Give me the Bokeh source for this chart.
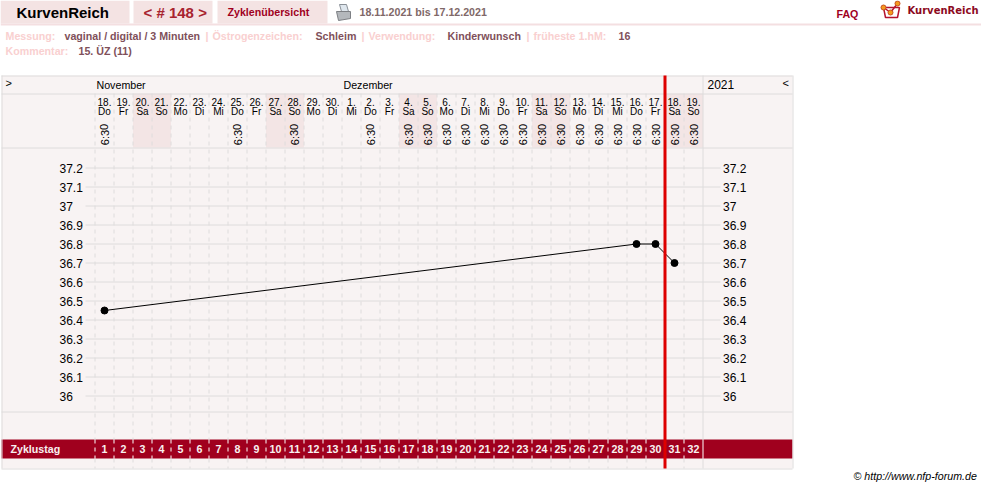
from bokeh.plotting import figure
from bokeh.models import Range1d, LinearAxis, FixedTicker, NumeralTickFormatter
from bokeh.core.properties import value
from bokeh.embed import file_html
from bokeh.resources import INLINE

# ---------- data ----------
day_numbers = [18,19,20,21,22,23,24,25,26,27,28,29,30,1,2,3,4,5,6,7,8,9,10,11,12,13,14,15,16,17,18,19]
weekdays = ["Do","Fr","Sa","So","Mo","Di","Mi","Do","Fr","Sa","So","Mo","Di","Mi","Do","Fr","Sa","So","Mo","Di","Mi","Do","Fr","Sa","So","Mo","Di","Mi","Do","Fr","Sa","So"]
cycle_days = list(range(1, 33))
measured_cycle_days = [1, 29, 30, 31]
temperatures = [36.45, 36.8, 36.8, 36.7]
time_cycle_days = [1, 8, 11, 15, 17, 18, 19, 20, 21, 22, 23, 24, 25, 26, 27, 28, 29, 30, 31, 32]
time_label = "6:30"
temp_ticks = [36, 36.1, 36.2, 36.3, 36.4, 36.5, 36.6, 36.7, 36.8, 36.9, 37, 37.1, 37.2]
current_boundary = 30.5
months = ["November", "Dezember"]
year = "2021"

# ---------- layout constants (pixels) ----------
W, H = 981, 488
DAY_PX, DEG_PX = 19, 190
DAY1_PX, T36_PX = 104, 395.5

BG, GRID, WKND, TAB = "#f8f3f3", "#dedcdc", "#f3e5e5", "#f4e3e3"
WINE, RED = "#a0001e", "#dd0000"
PALE, VAL, DATEC = "#f9d0d0", "#80505a", "#806868"
ARIAL = value("Liberation Sans")
PT8 = 10.67

p = figure(width=W, height=H, output_backend="svg", toolbar_location=None, min_border=0,
           x_range=Range1d(1 - DAY1_PX / DAY_PX, 1 + (W - DAY1_PX) / DAY_PX),
           y_range=Range1d(36 - (H - T36_PX) / DEG_PX, 36 + T36_PX / DEG_PX),
           x_axis_type=None, y_axis_type=None, outline_line_color=None,
           background_fill_color="white", border_fill_color="white")
p.styles = {"position": "absolute", "left": "0px", "top": "0px"}
p.grid.visible = False
p.extra_x_ranges["px"] = Range1d(0, W)
p.extra_y_ranges["px"] = Range1d(H, 0)
PX = dict(x_range_name="px", y_range_name="px")
PY = dict(y_range_name="px")

def box(x0, x1, y0, y1, color):
    p.quad(left=[x0], right=[x1], top=[y0], bottom=[y1], fill_color=color, line_color=None, **PX)

def hline(x0, x1, y, color=GRID, w=1):
    p.segment([x0], [y], [x1], [y], line_color=color, line_width=w, **PX)

def vline(x, y0, y1, color=GRID, w=1):
    p.segment([x], [y0], [x], [y1], line_color=color, line_width=w, **PX)

def txt(x, y, s, color, size, font=ARIAL, style="normal", align="left"):
    p.text([x], [y - 1], text=[s], text_color=color, text_font=font, text_font_size=f"{size}px",
           text_font_style=style, text_align=align, text_baseline="middle", **PX)

# ---------- top tabs ----------
box(0, 129, 0, 23, TAB); box(133, 212, 0, 23, TAB); box(217, 327, 0, 23, TAB)
box(0, W, 23, 25, "#f4dfe1")
txt(16, 13, "KurvenReich", "#000000", 15, style="bold")
txt(143, 13, "< # 148 >", "#a8232f", 15, style="bold")
txt(227, 12.5, "Zyklenübersicht", WINE, PT8, style="bold")
txt(359, 12.5, "18.11.2021 bis 17.12.2021", DATEC, PT8, style="bold")
txt(836, 14.5, "FAQ", WINE, PT8, style="bold")
txt(907, 10.5, "KurvenReich", "#8c0a1e", 10, font=value("DejaVu Sans"), style="bold")

# printer icon
p.patch([339, 346, 348, 341], [4, 4, 11, 11], fill_color="#dfe7ee", line_color="#8a9097", **PX)
p.patch([336, 350, 350, 338], [11, 11, 18, 20], fill_color="#b4b8bc", line_color="#7d8084", **PX)

# logo
p.patch([883, 899, 897, 885], [7, 7, 17, 17], fill_color="#ffffff", line_color="#b5122e", line_width=1.5, **PX)
p.line([883, 890, 897], [7, 12, 3], line_color="#b5122e", line_width=1.5, **PX)
p.scatter([883, 890, 897], [7, 12, 3], size=5, fill_color="#f39a1e", line_color="#c8501e", **PX)

# ---------- info lines ----------
for x, s, c in [(5, "Messung:", PALE), (64, "vaginal / digital / 3 Minuten", VAL), (205, "|", PALE),
                (212, "Östrogenzeichen:", PALE), (315, "Schleim", VAL), (361, "|", PALE),
                (368, "Verwendung:", PALE), (447, "Kinderwunsch", VAL), (526, "|", PALE),
                (533, "früheste 1.hM:", PALE), (618, "16", VAL)]:
    txt(x, 36, s, c, PT8, style="bold")
txt(5, 51, "Kommentar:", PALE, PT8, style="bold")
txt(78, 51, "15. ÜZ (11)", VAL, PT8, style="bold")

# ---------- panel ----------
box(1, 792, 75, 468, BG)
weekend = [d for d, w in zip(cycle_days, weekdays) if w in ("Sa", "So")]
p.vbar(x=weekend, width=1, top=[93] * len(weekend), bottom=[147] * len(weekend),
       fill_color=WKND, line_color=None, **PY)

box(1, 792, 439, 458, WINE)

# dashed day separators
seps = [d - 0.5 for d in cycle_days]
p.segment(seps, [93] * 32, seps, [439] * 32, line_color=GRID, line_dash="4 4", **PY)
p.segment(seps, [458] * 32, seps, [468] * 32, line_color=GRID, line_dash="4 4", **PY)
p.segment(seps, [439] * 32, seps, [458] * 32, line_color="#ffffff", line_dash="4 4", **PY)

# solid frame lines
for y in (75, 93, 147, 411, 468):
    hline(1, 792, y + 0.5)
vline(1.5, 75, 468); vline(792.5, 75, 468)
p.segment([32.5], [75], [32.5], [439], line_color=GRID, **PY)
p.segment([32.5], [458], [32.5], [468], line_color=GRID, **PY)
p.segment([32.5], [439], [32.5], [458], line_color="#ffffff", **PY)

# temperature grid lines, running out to both label columns
n = len(temp_ticks)
p.segment([85] * n, temp_ticks, [720] * n, temp_ticks, line_color=GRID, x_range_name="px")

# header texts
txt(5, 83, ">", "#000000", 11)
txt(782, 83, "<", "#000000", 11)
txt(96, 85, months[0], "#000000", PT8)
txt(343, 85, months[1], "#000000", PT8)
txt(707, 85, year, "#000000", 12)

# date labels
p.text(cycle_days, [101] * 32, text=[f"{d}." for d in day_numbers], text_color="#000000", text_font=ARIAL,
       text_font_size="10px", text_align="center", text_baseline="middle", **PY)
p.text(cycle_days, [111] * 32, text=weekdays, text_color="#000000", text_font=ARIAL,
       text_font_size="10px", text_align="center", text_baseline="middle", **PY)
p.text(time_cycle_days, [134] * len(time_cycle_days), text=[time_label] * len(time_cycle_days), angle=1.5708,
       text_color="#000000", text_font=ARIAL, text_font_size="11px", text_align="center",
       text_baseline="middle", **PY)

# Zyklustag row
txt(10, 449, "Zyklustag", "#f8f0f0", PT8, style="bold")
p.text(cycle_days, [448] * 32, text=[str(d) for d in cycle_days], text_color="#f8f0f0", text_font=ARIAL,
       text_font_size="10.67px", text_font_style="bold", text_align="center", text_baseline="middle", **PY)

# two label columns; both read left to right from their own start
for loc in (1 + (56 - DAY1_PX) / DAY_PX, 32.5 + 17 / DAY_PX):
    ax = LinearAxis(ticker=FixedTicker(ticks=temp_ticks), formatter=NumeralTickFormatter(format="0.[0]"),
                    fixed_location=loc, axis_line_color=None, major_tick_line_color=None,
                    major_tick_in=0, major_tick_out=0, minor_tick_line_color=None,
                    major_label_standoff=3, major_label_text_font="Liberation Sans",
                    major_label_text_font_size="12px", major_label_text_color="#000000")
    p.add_layout(ax, "right")

# data line + current-day marker
p.line(measured_cycle_days, temperatures, line_color="#000000", line_width=1)
p.scatter(measured_cycle_days, temperatures, size=7, fill_color="#000000", line_color="#000000")
p.segment([current_boundary], [75], [current_boundary], [468], line_color=RED, line_width=3, **PY)

txt(853, 476, "© http://www.nfp-forum.de", "#000000", PT8, style="italic")

open("out.html", "w").write(file_html(p, INLINE))
